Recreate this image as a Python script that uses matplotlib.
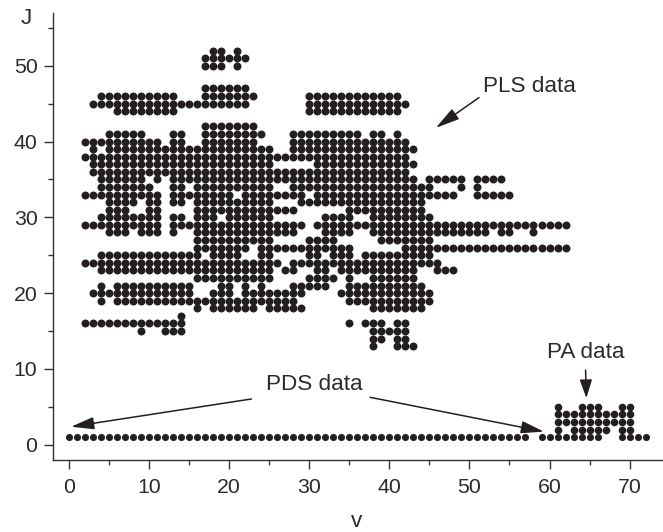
import matplotlib
matplotlib.use('Agg')
import matplotlib.pyplot as plt
from matplotlib.ticker import MultipleLocator

# J values of the PLS rows, with the v values measured in each row
pls_j = [52, 51, 50, 47, 46, 45, 44, 42, 41, 40, 39, 38, 37, 36, 35, 34, 33, 32, 31, 30, 29,
         28, 27, 26, 25, 24, 23, 22, 21, 20, 19, 18, 17, 16, 15, 14, 13]
pls_v = [
    [18, 19, 21],
    [*range(17, 23)],
    [17, 18, 19, 21],
    [*range(17, 23)],
    [*range(4, 14), *range(17, 24), *range(30, 42)],
    [*range(3, 23), *range(30, 43)],
    [*range(6, 14), *range(30, 42)],
    [*range(17, 24)],
    [*range(5, 10), 13, 14, *range(17, 25), *range(28, 37), 38, 39, 41],
    [*range(2, 12), 13, 14, *range(17, 24), *range(28, 43)],
    [3, *range(5, 26), *range(28, 44)],
    [*range(2, 43)],
    [*range(3, 26), *range(31, 44)],
    [*range(3, 43)],
    [*range(4, 10), 11, *range(13, 44), *range(45, 50), *range(51, 55)],
    [*range(4, 11), 13, 14, *range(16, 26), *range(28, 46), 49, 51],
    [*range(2, 12), *range(13, 21), *range(22, 30), *range(31, 49), *range(51, 56)],
    [*range(5, 9), 10, 11, 13, 14, *range(16, 26), *range(29, 45)],
    [5, 6, 7, 10, 11, *range(16, 29), *range(35, 45)],
    [*range(4, 12), 13, 14, 16, 17, 18, *range(20, 26), *range(32, 36), *range(38, 46)],
    [*range(2, 12), *range(13, 30), *range(31, 63)],
    [5, 6, 7, 9, 10, 11, 13, *range(16, 29), *range(32, 36), *range(38, 53), 54, 55, 58],
    [*range(16, 26), *range(30, 34), *range(39, 46)],
    [*range(16, 23), *range(24, 36), *range(42, 63)],
    [*range(4, 17), *range(18, 22), 24, 25, 30, 31, 33, 34, 35, *range(37, 46)],
    [*range(2, 27), *range(28, 47)],
    [*range(4, 26), 27, 28, 31, 32, *range(34, 44), 46, 47, 48],
    [*range(16, 26), *range(30, 34), 35, *range(38, 44)],
    [4, *range(6, 16), 19, 20, 22, 24, *range(28, 33), *range(35, 45)],
    [*range(3, 16), 18, 19, 20, *range(22, 30), *range(34, 46)],
    [4, *range(6, 29), *range(35, 46)],
    [16, *range(18, 24), *range(25, 30), *range(38, 45)],
    [14],
    [*range(2, 15), 35, 37, 38, 39, 41, 42],
    [9, 12, 13, 14, *range(38, 43)],
    [38, 39, 41, 42],
    [38, 41, 42, 43],
]

# PDS data, all at J = 1
pds_v = [*range(0, 58), 59, 60]

# PA data
pa_j = [5, 4, 3, 2, 1]
pa_v = [
    [61, 64, 65, 66, 69, 70],
    [*range(61, 71)],
    [*range(61, 71)],
    [61, *range(63, 68), 69, 70],
    [*range(61, 67), *range(69, 73)],
]

plt.rcParams['font.family'] = ['Liberation Sans', 'DejaVu Sans']

dark = '#231f20'
axis_color = '#333333'
text_color = '#2b2b2b'

fig = plt.figure(figsize=(6.63, 5.32), dpi=100)
ax = fig.add_axes([52.7 / 663, 1 - 459.6 / 532, (661.7 - 52.7) / 663, (459.6 - 12.7) / 532])

# Dots, one row at a time. The J = 1 row is printed a bit smaller than the rest
for rows, values, size in [(pls_j, pls_v, 33), (pa_j[:-1], pa_v[:-1], 30), (pa_j[-1:], pa_v[-1:], 26), ([1], [pds_v], 26)]:
    for j, v in zip(rows, values):
        ax.scatter(v, [j] * len(v), s=size, color=dark, linewidths=0, zorder=3)

ax.set_xlim(-2, 74)
ax.set_ylim(-1.97, 57)

ax.spines['top'].set_visible(False)
ax.spines['right'].set_visible(False)
ax.spines['left'].set_color(axis_color)
ax.spines['bottom'].set_color(axis_color)
ax.spines['left'].set_linewidth(1.0)
ax.spines['bottom'].set_linewidth(1.0)

ax.xaxis.set_major_locator(MultipleLocator(10))
ax.xaxis.set_minor_locator(MultipleLocator(5))
ax.yaxis.set_major_locator(MultipleLocator(10))
ax.yaxis.set_minor_locator(MultipleLocator(5))
ax.tick_params(which='major', length=6.5, width=1.0, color=axis_color,
               labelsize=15.3, labelcolor=text_color)
ax.tick_params(which='minor', length=3.5, width=1.0, color=axis_color)
ax.tick_params(axis='x', which='major', pad=6.5)
ax.tick_params(axis='y', which='major', pad=4.5)

ax.text(-5.3, 55.5, 'J', fontsize=16.2, color=text_color, ha='center', va='baseline', clip_on=False)
ax.text(35.95, -10.8, 'v', fontsize=16.2, color=text_color, ha='center', va='baseline', clip_on=False)

ax.text(57.5, 47.2, 'PLS data', fontsize=16.2, color=text_color, ha='center', va='center')
ax.text(30.6, 8.0, 'PDS data', fontsize=16.2, color=text_color, ha='center', va='center')
ax.text(64.5, 12.2, 'PA data', fontsize=16.2, color=text_color, ha='center', va='center')

# Arrows: tail, tip in data units, head length
arrows = [((51.2, 45.8), (45.8, 41.8), 1.05),
          ((22.8, 6.03), (0.3, 2.37), 1.0),
          ((37.6, 6.25), (59.3, 1.72), 1.0),
          ((64.5, 9.84), (64.6, 6.15), 0.8)]
for tail, tip, head in arrows:
    style = '-|>,head_length=%s,head_width=0.27' % head
    ax.annotate('', xy=tip, xytext=tail,
                arrowprops=dict(arrowstyle=style, mutation_scale=14, color=dark, lw=1.1,
                                shrinkA=0, shrinkB=0), zorder=4)

fig.savefig('out.png', dpi=100)
